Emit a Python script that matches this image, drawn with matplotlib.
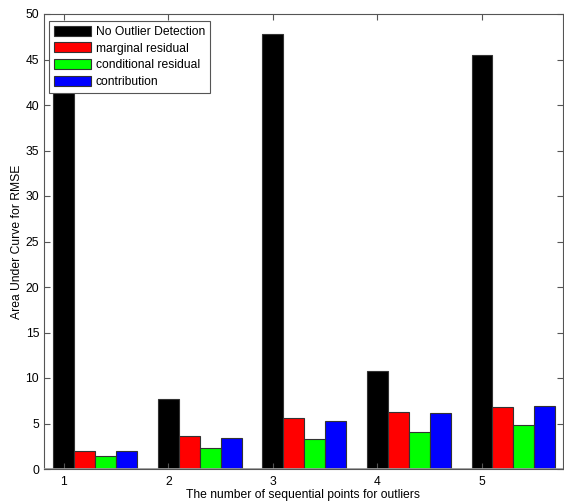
import numpy as np
import matplotlib.pyplot as plt

groups = [1, 2, 3, 4, 5]
no_detection = [43.0, 7.65, 47.8, 10.8, 45.5]
marginal = [1.98, 3.59, 5.6, 6.3, 6.78]
conditional = [1.43, 2.27, 3.26, 4.07, 4.8]
contribution = [2.0, 3.44, 5.27, 6.12, 6.89]
labels = ['No Outlier Detection', 'marginal residual',
          'conditional residual', 'contribution']
colors = ['#000000', '#ff0000', '#00ff00', '#0000ff']

plt.rcParams['font.family'] = ['Liberation Sans', 'DejaVu Sans']
plt.rcParams['font.size'] = 8.7

fig = plt.figure(figsize=(5.64, 5.04), dpi=100)
ax = fig.add_axes([44 / 564, 1 - 469 / 504, 519 / 564, 455 / 504])

x = np.array(groups, dtype=float)
w = 0.2
series = [no_detection, marginal, conditional, contribution]
for i, (vals, lab, col) in enumerate(zip(series, labels, colors)):
    ax.bar(x + i * w, vals, width=w, color=col, edgecolor='#333333',
           linewidth=0.8, label=lab)

ax.axhline(0, color='#999999', linewidth=2, zorder=3)

ax.set_xlim(0.81, 5.775)
ax.set_ylim(0, 50)
ax.set_xticks(groups)
ax.set_yticks(np.arange(0, 51, 5))
ax.tick_params(direction='in', top=True, right=True, length=4,
               color='#555555', labelsize=8.7)
ax.tick_params(axis='x', pad=5)
for s in ax.spines.values():
    s.set_color('#555555')

ax.set_xlabel('The number of sequential points for outliers', labelpad=1)
ax.set_ylabel('Area Under Curve for RMSE', labelpad=2)

leg = ax.legend(loc='upper left', bbox_to_anchor=(0.01, 0.985),
                fancybox=False, framealpha=1, edgecolor='#555555',
                handlelength=3.1, handleheight=0.9, borderpad=0.4,
                labelspacing=0.38, handletextpad=0.35, borderaxespad=0)
leg.get_frame().set_linewidth(0.8)

fig.savefig('out.png', dpi=100)
